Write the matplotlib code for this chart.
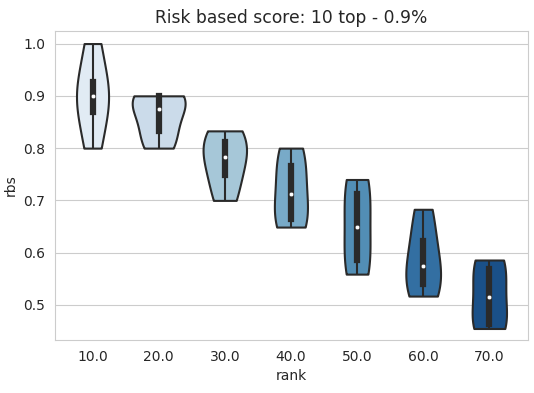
import matplotlib
matplotlib.use("Agg")
import matplotlib.pyplot as plt
from matplotlib.collections import PolyCollection
import seaborn as sns
import pandas as pd
import numpy as np

ranks = ["10.0", "20.0", "30.0", "40.0", "50.0", "60.0", "70.0"]
rbs_10 = [0.800, 0.869, 0.900, 0.927, 1.000]
rbs_20 = [0.800, 0.833, 0.874, 0.900, 0.900]
rbs_30 = [0.700, 0.748, 0.783, 0.812, 0.833]
rbs_40 = [0.649, 0.665, 0.713, 0.765, 0.800]
rbs_50 = [0.559, 0.586, 0.649, 0.713, 0.740]
rbs_60 = [0.517, 0.540, 0.575, 0.623, 0.683]
rbs_70 = [0.455, 0.463, 0.515, 0.569, 0.586]
groups = [rbs_10, rbs_20, rbs_30, rbs_40, rbs_50, rbs_60, rbs_70]

rows = []
for r, vals in zip(ranks, groups):
    for v in vals:
        rows.append({"rank": r, "rbs": v})
df = pd.DataFrame(rows)

sns.set_style("whitegrid")
plt.rcParams['font.family'] = ['DejaVu Sans']

edge = "#2a2a2a"
fig = plt.figure(figsize=(5.34, 3.93), dpi=100)
ax = fig.add_axes([55/534, 1-340/393, (528-55)/534, (340-31)/393])
# no hue -> common "area" normalisation across all violins
sns.violinplot(data=df, x="rank", y="rbs", color="#9ecae1",
               cut=0, inner=None, linewidth=1.5, linecolor=edge,
               ax=ax, order=ranks)
colors = [sns.desaturate(c, 0.75) for c in sns.color_palette("Blues", len(ranks))]
bodies = [c for c in ax.collections if isinstance(c, PolyCollection)]
for body, c in zip(bodies, colors):
    body.set_facecolor(c)

# inner box (classic seaborn style): whiskers, IQR box, white median dot
for i, vals in enumerate(groups):
    a = np.asarray(vals)
    q1, med, q3 = np.percentile(a, [25, 50, 75])
    lim = 1.5 * (q3 - q1)
    lo = a[a >= q1 - lim].min()
    hi = a[a <= q3 + lim].max()
    ax.plot([i, i], [lo, hi], color=edge, lw=1.5, solid_capstyle="butt", zorder=3)
    ax.plot([i, i], [q1, q3], color=edge, lw=4.5, solid_capstyle="projecting", zorder=3)
    ax.plot([i], [med], marker="o", color="white", markersize=3.2,
            markeredgecolor=edge, markeredgewidth=0.3, zorder=4)

ax.set_ylim(0.433, 1.024)
ax.set_yticks([0.5, 0.6, 0.7, 0.8, 0.9, 1.0])
ax.tick_params(labelsize=10, colors=".15")
ax.set_xlabel("rank", fontsize=10, color=".15")
ax.set_ylabel("rbs", fontsize=10, color=".15")
ax.set_title("Risk based score: 10 top - 0.9%", fontsize=12.3, color=".15")
fig.savefig("out.png", dpi=100)
